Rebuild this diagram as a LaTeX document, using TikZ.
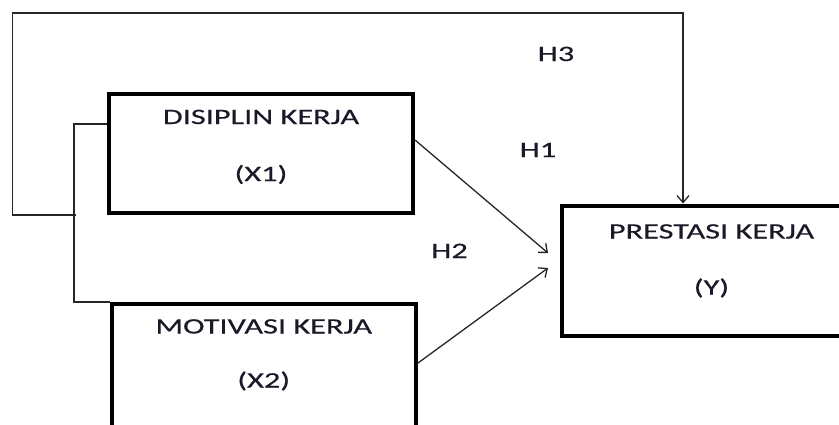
\documentclass[tikz,border=0pt]{standalone}
\usepackage{fontspec}
\setmainfont[FakeStretch=1.47, FakeBold=0.4]{Carlito}
\usetikzlibrary{positioning, arrows.meta, calc}
\definecolor{inkcol}{RGB}{25,25,40}

\begin{document}
\begin{tikzpicture}[
    x=1pt, y=-1pt,
    box/.style={draw, line width=4pt, inner sep=0pt},
    boxtext/.style={anchor=base, inner sep=0pt, text=inkcol, font=\fontsize{22}{26}\selectfont},
    link/.style={draw=black!85, line width=1.3pt},
    >={Straight Barb[length=7pt, width=12pt]}
]

\clip (0,0) rectangle (839,424);

% Variable boxes
\node[box, minimum width=304pt, minimum height=119pt] (x1) at (261,153.5) {};
\node[box, minimum width=304.5pt, minimum height=140pt] (x2) at (263.75,373.5) {};
\node[box, minimum width=300pt, minimum height=130pt] (y) at (711.5,270.5) {};

\node[boxtext] (x1name) at ([yshift=-32pt]x1.north) {DISIPLIN KERJA};
\node[boxtext] (x1code) at ([yshift=-89pt]x1.north) {(X1)};
\node[boxtext] (x2name) at ([yshift=-32pt]x2.north) {MOTIVASI KERJA};
\node[boxtext] (x2code) at ([yshift=-86pt]x2.north) {(X2)};
\node[boxtext] (yname) at ([yshift=-35pt]y.north) {PRESTASI KERJA};
\node[boxtext] (ycode) at ([yshift=-91pt]y.north) {(Y)};

% Hypothesis labels
\node[boxtext] (h3) at (556,61) {H3};
\node[boxtext] (h1) at (538,157) {H1};
\node[boxtext] (h2) at (449.5,258) {H2};

% Bracket joining X1 and X2
\coordinate (brtop) at (74,124);
\coordinate (brbot) at (74,302);
\draw[link] (x1.west |- brtop) -- (brtop) -- (brbot) -- (brbot -| x2.west);

% Simultaneous path (H3)
\coordinate (h3start) at (76,215);
\coordinate (h3a) at (12.7,13);
\coordinate (h3b) at (683,13);
\draw[link, ->] (h3start) -| (h3a) -- (h3b) -- (h3b |- y.north);

% Partial paths (H1, H2)
\coordinate (h1tip) at (548,253);
\coordinate (h2tip) at (548,268);
\draw[link, ->] ([yshift=-48pt]x1.north east) -- (h1tip);
\draw[link, ->] ([yshift=-61.5pt]x2.north east) -- (h2tip);

\end{tikzpicture}
\end{document}
